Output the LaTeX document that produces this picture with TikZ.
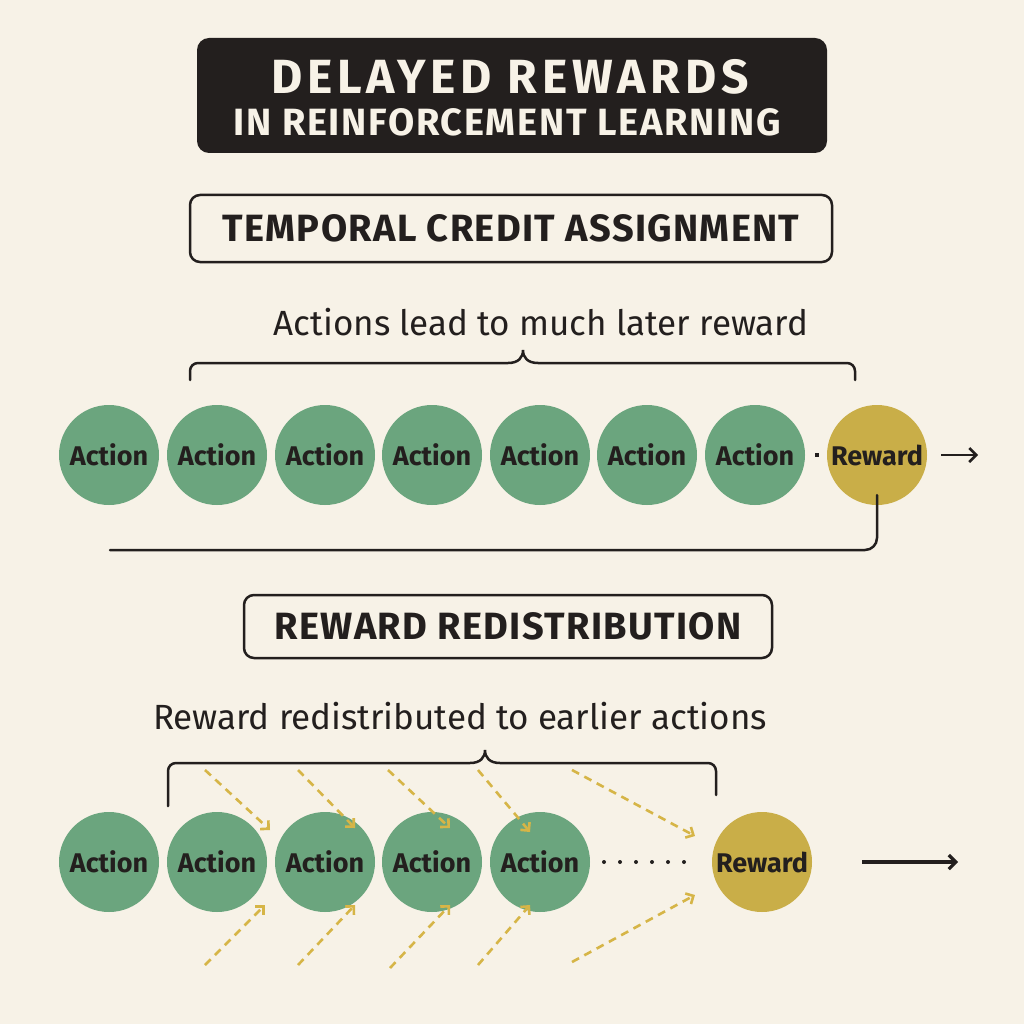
\documentclass[tikz,border=0pt]{standalone}
\usepackage{fontspec}
\setmainfont{Fira Sans}
\usetikzlibrary{arrows.meta}
\definecolor{paper}{HTML}{F7F2E7}
\definecolor{ink}{HTML}{231F1E}
\definecolor{actgreen}{HTML}{6BA57E}
\definecolor{rewgold}{HTML}{C9AE48}
\definecolor{dashgold}{HTML}{D6B547}

\tikzset{
  act/.style={circle,fill=actgreen,minimum size=100pt,inner sep=0pt,
    text=ink,font=\fontsize{27}{27}\selectfont\bfseries},
  rew/.style={act,fill=rewgold},
  headbox/.style={draw=ink,line width=2.5pt,rounded corners=10pt,fill=paper,
    text=ink,font=\fontsize{38}{38}\selectfont\bfseries\addfontfeature{LetterSpace=3.5}},
  caption/.style={text=ink,font=\fontsize{35}{35}\selectfont},
  redist/.style={draw=dashgold,line width=2.6pt,dash pattern=on 8pt off 6pt,
    -{Straight Barb[length=6pt,width=12pt]}},
  brace/.style={draw=ink,line width=2.5pt,line cap=round},
  flow/.style={draw=ink,line width=2.5pt,-{Straight Barb[length=7pt,width=14pt]}},
}

\begin{document}
\begin{tikzpicture}[x=1pt,y=-1pt]
  \fill[paper] (0,0) rectangle (1024,1024);
  \useasboundingbox (0,0) rectangle (1024,1024);

  % title
  \node[fill=ink,rounded corners=12pt,minimum width=630pt,minimum height=115pt] (title) at (512,95.5) {};
  \node[text=paper,font=\fontsize{48}{48}\selectfont\bfseries] (t1) at (510,77) {\addfontfeature{LetterSpace=10}DELAYED REWARDS};
  \node[text=paper,font=\fontsize{38}{38}\selectfont\bfseries] (t2) at (507,122) {\addfontfeature{LetterSpace=4.5}IN REINFORCEMENT LEARNING};

  % temporal credit assignment
  \node[headbox,minimum width=642pt,minimum height=67pt] (tca) at (511,228.5) {TEMPORAL CREDIT ASSIGNMENT};
  \node[caption] (cap1) at (541,322) {Actions lead to much later reward};
  \draw[brace] (190,380) -- (190,371) to[out=90,in=180] (198,363) -- (508,363)
    .. controls (518,363) and (523,358) .. (523,350)
    .. controls (523,358) and (528,363) .. (538,363) -- (847,363)
    to[out=0,in=90] (855,371) -- (855,380);

  \node[act] (A1) at (109,455) {Action};
  \node[act] (A2) at (217,455) {Action};
  \node[act] (A3) at (325,455) {Action};
  \node[act] (A4) at (432,455) {Action};
  \node[act] (A5) at (540,455) {Action};
  \node[act] (A6) at (647,455) {Action};
  \node[act] (A7) at (755,455) {Action};
  \node[rew] (R1) at (877,455) {Reward};
  \fill[ink] (815,453) rectangle (819,457);
  \coordinate (E1) at (978,455);
  \draw[flow] ([xshift=14pt]R1.east) -- (E1);
  \coordinate (L1) at (110,550);
  \draw[brace,rounded corners=12pt] ([yshift=10pt]R1.south) |- (L1);

  % reward redistribution
  \node[headbox,minimum width=528pt,minimum height=63pt] (rr) at (508,626.5) {REWARD REDISTRIBUTION};
  \node[caption] (cap2) at (460,716) {Reward redistributed to earlier actions};
  \draw[brace] (168,806) -- (168,771) to[out=90,in=180] (176,763) -- (470,763)
    .. controls (480,763) and (485,758) .. (485,750)
    .. controls (485,758) and (490,763) .. (500,763) -- (708,763)
    to[out=0,in=90] (716,771) -- (716,795);

  \node[act] (B1) at (109,862) {Action};
  \node[act] (B2) at (217,862) {Action};
  \node[act] (B3) at (325,862) {Action};
  \node[act] (B4) at (432,862) {Action};
  \node[act] (B5) at (540,862) {Action};
  \node[rew] (R2) at (762,862) {Reward};
  \foreach \x in {604,620,636,652,668,684}
    \fill[ink] (\x,862) circle (2pt);
  \coordinate (E2) at (958,862);
  \draw[flow,line width=3.2pt] (862,862) -- (E2);

  % dashed arrows, top and bottom
  \draw[redist] (205,770) -- (270,830);
  \draw[redist] (298,770) -- (355,828);
  \draw[redist] (388,770) -- (450,828);
  \draw[redist] (478,770) -- (530,832);
  \draw[redist] (572,770) -- (695,836);
  \draw[redist] (205,965) -- (265,905);
  \draw[redist] (298,965) -- (355,905);
  \draw[redist] (390,968) -- (450,905);
  \draw[redist] (478,965) -- (530,905);
  \draw[redist] (572,962) -- (695,895);
\end{tikzpicture}
\end{document}
